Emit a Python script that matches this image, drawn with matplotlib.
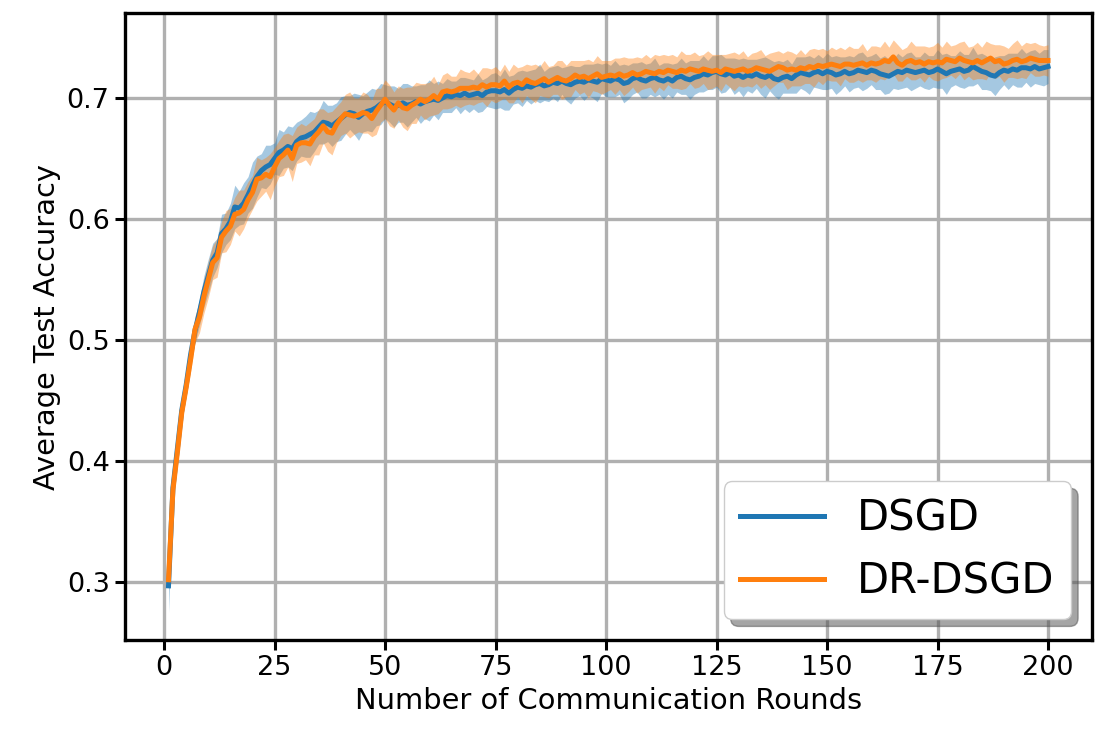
import numpy as np
import matplotlib.pyplot as plt

rounds = np.arange(1, 201)

dsgd_mean = [
    0.297, 0.378, 0.410, 0.442, 0.463, 0.488, 0.508, 0.523, 0.540, 0.553,
    0.566, 0.572, 0.588, 0.592, 0.598, 0.610, 0.609, 0.613, 0.620, 0.628,
    0.635, 0.640, 0.643, 0.645, 0.650, 0.655, 0.657, 0.660, 0.658, 0.664,
    0.667, 0.668, 0.670, 0.672, 0.676, 0.680, 0.679, 0.677, 0.680, 0.683,
    0.686, 0.688, 0.687, 0.684, 0.687, 0.689, 0.690, 0.692, 0.695, 0.697,
    0.695, 0.693, 0.694, 0.696, 0.694, 0.695, 0.697, 0.695, 0.697, 0.698,
    0.699, 0.698, 0.700, 0.702, 0.701, 0.703, 0.702, 0.704, 0.702, 0.703,
    0.704, 0.702, 0.705, 0.706, 0.706, 0.705, 0.707, 0.704, 0.707, 0.709,
    0.708, 0.710, 0.709, 0.711, 0.712, 0.710, 0.711, 0.713, 0.712, 0.714,
    0.712, 0.711, 0.713, 0.714, 0.713, 0.715, 0.714, 0.713, 0.716, 0.715,
    0.714, 0.716, 0.715, 0.712, 0.713, 0.716, 0.717, 0.715, 0.714, 0.716,
    0.717, 0.715, 0.714, 0.716, 0.714, 0.717, 0.718, 0.716, 0.715, 0.717,
    0.718, 0.720, 0.719, 0.721, 0.722, 0.720, 0.719, 0.721, 0.718, 0.719,
    0.717, 0.719, 0.718, 0.720, 0.718, 0.717, 0.719, 0.716, 0.715, 0.717,
    0.718, 0.716, 0.719, 0.721, 0.720, 0.719, 0.721, 0.722, 0.720, 0.722,
    0.721, 0.719, 0.720, 0.722, 0.720, 0.721, 0.723, 0.722, 0.721, 0.723,
    0.722, 0.720, 0.719, 0.718, 0.720, 0.722, 0.721, 0.723, 0.722, 0.721,
    0.722, 0.723, 0.721, 0.722, 0.724, 0.722, 0.720, 0.722, 0.723, 0.724,
    0.722, 0.723, 0.726, 0.724, 0.722, 0.721, 0.719, 0.718, 0.721, 0.723,
    0.722, 0.724, 0.723, 0.725, 0.725, 0.724, 0.726, 0.724, 0.725, 0.726,
]

drdsgd_mean = [
    0.302, 0.376, 0.407, 0.440, 0.461, 0.484, 0.509, 0.519, 0.536, 0.550,
    0.564, 0.568, 0.585, 0.590, 0.594, 0.604, 0.605, 0.608, 0.616, 0.622,
    0.633, 0.634, 0.637, 0.635, 0.643, 0.650, 0.653, 0.657, 0.650, 0.661,
    0.663, 0.663, 0.662, 0.668, 0.672, 0.677, 0.672, 0.671, 0.678, 0.683,
    0.687, 0.686, 0.685, 0.686, 0.688, 0.687, 0.683, 0.689, 0.694, 0.699,
    0.694, 0.690, 0.696, 0.692, 0.691, 0.694, 0.696, 0.699, 0.697, 0.699,
    0.702, 0.699, 0.705, 0.706, 0.705, 0.706, 0.708, 0.708, 0.708, 0.709,
    0.708, 0.711, 0.709, 0.711, 0.711, 0.710, 0.714, 0.709, 0.712, 0.713,
    0.711, 0.715, 0.713, 0.712, 0.714, 0.716, 0.713, 0.715, 0.717, 0.715,
    0.714, 0.716, 0.719, 0.717, 0.718, 0.716, 0.718, 0.720, 0.717, 0.718,
    0.719, 0.718, 0.720, 0.718, 0.719, 0.721, 0.719, 0.720, 0.722, 0.721,
    0.720, 0.722, 0.721, 0.723, 0.722, 0.721, 0.723, 0.722, 0.724, 0.723,
    0.722, 0.724, 0.723, 0.722, 0.723, 0.721, 0.724, 0.723, 0.722, 0.723,
    0.724, 0.722, 0.723, 0.725, 0.724, 0.723, 0.722, 0.724, 0.726, 0.725,
    0.723, 0.724, 0.723, 0.725, 0.724, 0.726, 0.725, 0.727, 0.726, 0.727,
    0.728, 0.727, 0.726, 0.728, 0.728, 0.727, 0.728, 0.729, 0.727, 0.729,
    0.728, 0.729, 0.731, 0.730, 0.734, 0.729, 0.727, 0.730, 0.731, 0.729,
    0.730, 0.728, 0.730, 0.729, 0.730, 0.729, 0.732, 0.731, 0.730, 0.733,
    0.731, 0.730, 0.729, 0.731, 0.729, 0.731, 0.733, 0.730, 0.731, 0.728,
    0.729, 0.731, 0.732, 0.730, 0.731, 0.733, 0.732, 0.731, 0.731, 0.731,
]

dsgd_std = [
    0.022, 0.006, 0.005, 0.006, 0.007, 0.008, 0.010, 0.011, 0.013, 0.014,
    0.014, 0.012, 0.016, 0.013, 0.015, 0.018, 0.014, 0.017, 0.015, 0.019,
    0.017, 0.014, 0.018, 0.016, 0.013, 0.019, 0.015, 0.017, 0.018, 0.016,
    0.015, 0.017, 0.019, 0.016, 0.014, 0.018, 0.015, 0.017, 0.016, 0.018,
    0.016, 0.014, 0.017, 0.019, 0.015, 0.016, 0.018, 0.015, 0.017, 0.014,
    0.015, 0.017, 0.014, 0.016, 0.018, 0.015, 0.013, 0.016, 0.014, 0.017,
    0.013, 0.016, 0.012, 0.014, 0.013, 0.011, 0.015, 0.013, 0.014, 0.012,
    0.016, 0.013, 0.012, 0.014, 0.015, 0.013, 0.017, 0.014, 0.012, 0.013,
    0.015, 0.012, 0.014, 0.013, 0.016, 0.012, 0.014, 0.013, 0.015, 0.011,
    0.014, 0.016, 0.013, 0.012, 0.015, 0.013, 0.014, 0.016, 0.012, 0.014,
    0.013, 0.015, 0.012, 0.016, 0.014, 0.013, 0.012, 0.015, 0.014, 0.013,
    0.016, 0.012, 0.015, 0.013, 0.014, 0.012, 0.015, 0.013, 0.016, 0.014,
    0.013, 0.015, 0.012, 0.014, 0.013, 0.016, 0.014, 0.012, 0.015, 0.013,
    0.016, 0.013, 0.014, 0.012, 0.015, 0.017, 0.013, 0.014, 0.016, 0.013,
    0.014, 0.012, 0.015, 0.013, 0.014, 0.016, 0.012, 0.014, 0.013, 0.015,
    0.013, 0.016, 0.014, 0.012, 0.015, 0.013, 0.014, 0.016, 0.013, 0.012,
    0.015, 0.013, 0.016, 0.014, 0.012, 0.015, 0.013, 0.014, 0.016, 0.013,
    0.012, 0.015, 0.014, 0.013, 0.016, 0.014, 0.017, 0.013, 0.012, 0.015,
    0.014, 0.013, 0.016, 0.012, 0.015, 0.014, 0.013, 0.016, 0.014, 0.012,
    0.015, 0.013, 0.014, 0.016, 0.012, 0.015, 0.014, 0.013, 0.015, 0.014,
]

drdsgd_std = [
    0.004, 0.006, 0.006, 0.007, 0.008, 0.010, 0.011, 0.013, 0.014, 0.015,
    0.014, 0.016, 0.013, 0.017, 0.015, 0.014, 0.019, 0.016, 0.015, 0.014,
    0.018, 0.015, 0.014, 0.019, 0.016, 0.015, 0.017, 0.014, 0.019, 0.015,
    0.016, 0.014, 0.018, 0.015, 0.019, 0.014, 0.016, 0.018, 0.015, 0.014,
    0.016, 0.019, 0.015, 0.014, 0.017, 0.016, 0.015, 0.019, 0.014, 0.016,
    0.017, 0.015, 0.014, 0.016, 0.018, 0.015, 0.017, 0.013, 0.015, 0.014,
    0.016, 0.012, 0.014, 0.015, 0.013, 0.012, 0.016, 0.014, 0.013, 0.015,
    0.012, 0.014, 0.016, 0.013, 0.015, 0.012, 0.014, 0.013, 0.016, 0.012,
    0.015, 0.013, 0.014, 0.016, 0.012, 0.015, 0.013, 0.012, 0.014, 0.016,
    0.013, 0.015, 0.012, 0.014, 0.013, 0.016, 0.012, 0.015, 0.014, 0.013,
    0.012, 0.015, 0.013, 0.016, 0.014, 0.012, 0.015, 0.013, 0.014, 0.012,
    0.016, 0.013, 0.015, 0.012, 0.014, 0.013, 0.016, 0.014, 0.012, 0.015,
    0.013, 0.012, 0.016, 0.014, 0.013, 0.015, 0.012, 0.014, 0.016, 0.013,
    0.015, 0.012, 0.014, 0.013, 0.016, 0.012, 0.015, 0.014, 0.013, 0.012,
    0.016, 0.014, 0.013, 0.015, 0.012, 0.014, 0.016, 0.013, 0.015, 0.012,
    0.014, 0.013, 0.016, 0.012, 0.015, 0.014, 0.013, 0.016, 0.012, 0.014,
    0.015, 0.013, 0.016, 0.012, 0.014, 0.015, 0.013, 0.012, 0.016, 0.014,
    0.013, 0.015, 0.012, 0.014, 0.016, 0.013, 0.015, 0.012, 0.014, 0.013,
    0.016, 0.012, 0.014, 0.015, 0.013, 0.016, 0.012, 0.014, 0.013, 0.015,
    0.012, 0.014, 0.016, 0.013, 0.015, 0.012, 0.014, 0.013, 0.012, 0.013,
]

methods = ["DSGD", "DR-DSGD"]
means = [dsgd_mean, drdsgd_mean]
stds = [dsgd_std, drdsgd_std]
colors = ["#1f77b4", "#ff7f0e"]


def main():
    fig = plt.figure(figsize=(11.03, 7.37), dpi=100)
    ax = fig.add_axes([0.1129, 0.1312, 0.8771, 0.8508])

    for name, m, s, c in zip(methods, means, stds, colors):
        m = np.array(m)
        s = np.array(s)
        ax.plot(rounds, m, color=c, linewidth=3.6, label=name)
        ax.fill_between(rounds, m - s, m + s, color=c, alpha=0.4, linewidth=0)

    ax.set_xlim(-8.95, 209.95)
    ax.set_ylim(0.252, 0.770)
    ax.set_xticks([0, 25, 50, 75, 100, 125, 150, 175, 200])
    ax.set_yticks([0.3, 0.4, 0.5, 0.6, 0.7])

    ax.grid(True, color="#b0b0b0", linewidth=2.4)
    ax.set_axisbelow(True)
    for sp in ax.spines.values():
        sp.set_linewidth(2.4)
    ax.tick_params(labelsize=19.5, length=7.2, width=2.2)

    ax.set_xlabel("Number of Communication Rounds", fontsize=20.8)
    ax.set_ylabel("Average Test Accuracy", fontsize=20.8)

    ax.legend(loc="lower right", fontsize=30, shadow={"ox": 5, "oy": -5},
              fancybox=True)

    fig.savefig("out.png", dpi=100)


if __name__ == "__main__":
    main()
